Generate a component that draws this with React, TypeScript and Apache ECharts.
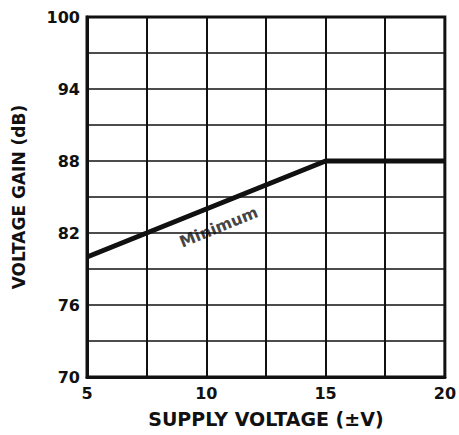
import React, { useEffect, useRef } from "react";
import * as echarts from "echarts";

const xTicksLabelled = [5, 10, 15, 20];
const yTicksLabelled = [70, 76, 82, 88, 94, 100];
const minimumCurve: [number, number][] = [
  [5, 80],
  [15, 88],
  [20, 88],
];
const curveLabel = "Minimum";
const curveLabelPos: [number, number] = [10.52, 82.5];
const xTitle = "SUPPLY VOLTAGE (±V)";
const yTitle = "VOLTAGE GAIN (dB)";

const FONT = "'DejaVu Sans', 'Liberation Sans', Arial, sans-serif";
const INK = "#111";

export default function App() {
  const ref = useRef<HTMLDivElement>(null);
  useEffect(() => {
    if (!ref.current) return;
    const chart = echarts.init(ref.current, undefined, { renderer: "svg" });
    chart.setOption({
      animation: false,
      backgroundColor: "#fff",
      grid: {
        left: 87,
        top: 17,
        right: 13,
        bottom: 58,
        show: true,
        borderColor: INK,
        borderWidth: 3,
        backgroundColor: "transparent",
      },
      xAxis: {
        type: "value",
        min: 5,
        max: 20,
        interval: 2.5,
        name: xTitle,
        nameLocation: "middle",
        nameGap: 32,
        nameTextStyle: { fontFamily: FONT, fontWeight: "bold", fontSize: 19, color: INK },
        axisLine: { show: true, lineStyle: { color: INK, width: 3 } },
        axisTick: { show: false },
        axisLabel: {
          margin: 8,
          fontFamily: FONT,
          fontWeight: "bold",
          fontSize: 16,
          color: INK,
          formatter: (v: number) => (xTicksLabelled.includes(v) ? String(v) : ""),
        },
        splitLine: { show: true, lineStyle: { color: INK, width: 2 } },
      },
      yAxis: {
        type: "value",
        min: 70,
        max: 100,
        interval: 3,
        name: yTitle,
        nameLocation: "middle",
        nameGap: 60,
        nameTextStyle: { fontFamily: FONT, fontWeight: "bold", fontSize: 17, color: INK },
        axisLine: { show: true, lineStyle: { color: INK, width: 3 } },
        axisTick: { show: false },
        axisLabel: {
          margin: 7,
          fontFamily: FONT,
          fontWeight: "bold",
          fontSize: 16,
          color: INK,
          formatter: (v: number) => (yTicksLabelled.includes(v) ? String(v) : ""),
        },
        splitLine: { show: true, lineStyle: { color: INK, width: 1.6 } },
      },
      series: [
        {
          type: "line",
          data: minimumCurve,
          symbol: "none",
          lineStyle: { color: INK, width: 5 },
          z: 5,
        },
        {
          type: "scatter",
          data: [curveLabelPos],
          symbolSize: 0,
          label: {
            show: true,
            position: "inside",
            formatter: curveLabel,
            rotate: 22,
            fontFamily: FONT,
            fontWeight: "bold",
            fontSize: 16,
            color: INK,
          },
          z: 6,
        },
      ],
    });
    return () => chart.dispose();
  }, []);
  return (
    <div
      ref={ref}
      style={{ position: "fixed", left: 0, top: 0, width: 459, height: 435 }}
    />
  );
}
